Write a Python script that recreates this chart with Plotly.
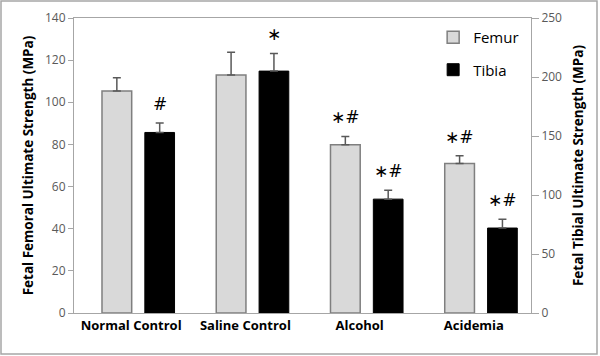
import plotly.graph_objects as go

categories = ["Normal Control", "Saline Control", "Alcohol", "Acidemia"]
femur = [105.3, 113.0, 79.8, 71.0]
femur_err = [6.3, 10.7, 4.0, 3.6]
tibia = [153.0, 205.0, 96.5, 72.0]
tibia_err = [8.0, 15.0, 7.5, 7.5]
femur_marks = ["", "", "∗#", "∗#"]
tibia_marks = ["#", "∗", "∗#", "∗#"]

FONT = "Open Sans"
W = 0.26
F_OFF = -0.255
T_OFF = 0.12

fig = go.Figure()
fig.add_trace(go.Bar(
    x=categories, y=femur, name="Femur", width=W, offset=F_OFF,
    marker=dict(color="#d9d9d9", line=dict(color="#7f7f7f", width=1.5)),
    error_y=dict(type="data", array=femur_err, arrayminus=[0]*4, symmetric=False,
                 color="#595959", thickness=1.5, width=4),
    legendgroup="f", xaxis="x", yaxis="y",
))
fig.add_trace(go.Bar(
    x=categories, y=tibia, name="Tibia", width=W, offset=T_OFF,
    marker=dict(color="#000000", line=dict(color="#000000", width=1)),
    error_y=dict(type="data", array=tibia_err, arrayminus=[0]*4, symmetric=False,
                 color="#595959", thickness=1.5, width=4),
    legendgroup="t", xaxis="x", yaxis="y2",
))

ann = []
for i, c in enumerate(categories):
    if femur_marks[i]:
        ann.append(dict(x=c, y=femur[i] + femur_err[i], xref="x", yref="y",
                        text=femur_marks[i], showarrow=False, yanchor="bottom",
                        xshift=(F_OFF + W / 2) * 114, yshift=7,
                        font=dict(family="DejaVu Sans", size=17, color="#000")))
    ann.append(dict(x=c, y=tibia[i] + tibia_err[i], xref="x", yref="y2",
                    text=tibia_marks[i], showarrow=False, yanchor="bottom",
                    xshift=(T_OFF + W / 2) * 114, yshift=7,
                    font=dict(family="DejaVu Sans", size=17, color="#000")))

fig.update_layout(
    width=600, height=356,
    margin=dict(l=74, r=69, t=18, b=43, autoexpand=False),
    paper_bgcolor="white", plot_bgcolor="white",
    font=dict(family=FONT, color="#595959", size=12),
    barmode="overlay",
    showlegend=True,
    legend=dict(x=0.985, y=0.99, xanchor="right", yanchor="top",
                bgcolor="rgba(0,0,0,0)", tracegroupgap=10, itemwidth=30,
                traceorder="grouped",
                font=dict(family=FONT, size=15, color="#000")),
    xaxis=dict(type="category", range=[-0.5, 3.5], showline=True, linecolor="#a6a6a6",
               linewidth=1, mirror=True, ticks="", showgrid=False, automargin=False,
               tickfont=dict(family=FONT, size=13, color="#000", weight="bold")),
    yaxis=dict(range=[0, 140], dtick=20, showline=True, linecolor="#a6a6a6",
               ticks="outside", ticklen=5, tickcolor="#a6a6a6", showgrid=False,
               zeroline=False, automargin=False,
               tickfont=dict(family=FONT, size=12, color="#595959"),
               title=dict(text="<b>Fetal Femoral Ultimate Strength (MPa)</b>",
                          font=dict(family=FONT, size=13.5, color="#000"), standoff=8)),
    yaxis2=dict(range=[0, 250], dtick=50, overlaying="y", side="right", showline=True,
                linecolor="#a6a6a6", ticks="outside", ticklen=7, tickcolor="#a6a6a6",
                showgrid=False, zeroline=False, automargin=False,
                tickfont=dict(family=FONT, size=12, color="#595959"),
                title=dict(text="<b>Fetal Tibial Ultimate Strength (MPa)</b>",
                           font=dict(family=FONT, size=13.5, color="#000"), standoff=12)),
    annotations=ann,
    shapes=[dict(type="rect", xref="paper", yref="paper",
                 x0=(1 - 74) / 457, x1=(597 - 74) / 457,
                 y0=-(354 - 313) / 295, y1=1 + 17 / 295,
                 line=dict(color="#a6a6a6", width=1.5), layer="below")],
)

fig.write_html("out.html", config={"displayModeBar": False},
               post_script="document.body.style.margin='0';")
